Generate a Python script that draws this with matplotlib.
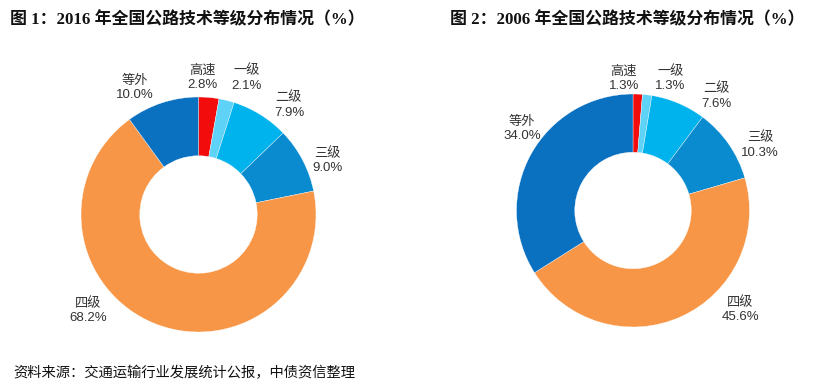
import matplotlib
matplotlib.use("Agg")
import matplotlib.pyplot as plt

plt.rcParams['font.family'] = ['Liberation Sans', 'Noto Sans CJK SC', 'DejaVu Sans']

categories = ['高速', '一级', '二级', '三级', '四级', '等外']
values_2016 = [2.8, 2.1, 7.9, 9.0, 68.2, 10.0]
values_2006 = [1.3, 1.3, 7.6, 10.3, 45.6, 34.0]
title_2016 = '图 1：2016 年全国公路技术等级分布情况（%）'
title_2006 = '图 2：2006 年全国公路技术等级分布情况（%）'
source_text = '资料来源：交通运输行业发展统计公报，中债资信整理'

colors = ['#F20C0C', '#5FD3F7', '#00B3EC', '#0A8BD0', '#F79646', '#0A70C0']

W, H = 818, 390
fig = plt.figure(figsize=(W / 100, H / 100), dpi=100)

# label positions in units of the outer radius (layout only)
label_pos_2016 = [(0.03, 1.16), (0.41, 1.16), (0.77, 0.93), (1.10, 0.46), (-0.94, -0.82), (-0.54, 1.08)]
label_pos_2006 = [(-0.08, 1.13), (0.32, 1.13), (0.72, 0.98), (1.09, 0.56), (0.92, -0.85), (-0.95, 0.70)]


def donut(cx, cy, r, vals, label_pos):
    half = 1.5 * r
    ax = fig.add_axes([(cx - half) / W, (H - cy - half) / H, 2 * half / W, 2 * half / H])
    ax.pie(vals, colors=colors, startangle=90, counterclock=False, radius=1,
           wedgeprops=dict(width=0.5, edgecolor='white', linewidth=0.25))
    for cat, v, (lx, ly) in zip(categories, vals, label_pos):
        ax.text(lx, ly, f'{cat}\n{v:.1f}%', ha='center', va='center', fontsize=9.5,
                color='#333333', linespacing=1.25)
    ax.set_xlim(-1.5, 1.5)
    ax.set_ylim(-1.5, 1.5)
    ax.set_aspect('equal')
    ax.axis('off')
    return ax


donut(198.5, 214.5, 117.5, values_2016, label_pos_2016)
donut(633, 210.5, 116.5, values_2006, label_pos_2006)

title_fam = ['Liberation Serif', 'Noto Sans CJK SC']
fig.text(10 / W, 1 - 20 / H, title_2016, fontsize=12.2, fontweight='bold',
         family=title_fam, ha='left', va='center', color='#111111')
fig.text(450 / W, 1 - 20 / H, title_2006, fontsize=12.2, fontweight='bold',
         family=title_fam, ha='left', va='center', color='#111111')
fig.text(13 / W, 1 - 373 / H, source_text, fontsize=10.3, family=['Noto Sans CJK SC'],
         ha='left', va='center', color='#111111')

fig.savefig('out.png', dpi=100)
